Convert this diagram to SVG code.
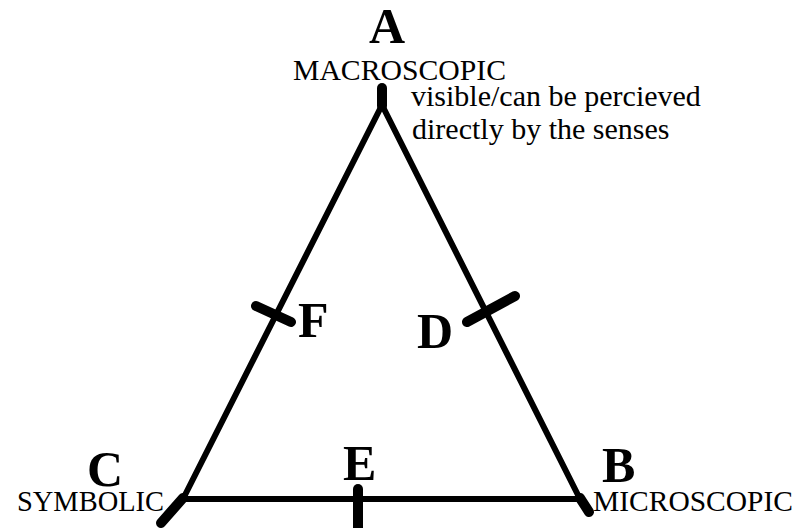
<svg xmlns="http://www.w3.org/2000/svg" width="809" height="528" viewBox="0 0 809 528">
<style>
.edge{stroke:#000;stroke-width:6;fill:none;stroke-linecap:round;stroke-linejoin:round}
.tick{stroke:#000;stroke-width:10;fill:none;stroke-linecap:round}
.big{font-family:"Liberation Serif","Times New Roman",serif;font-weight:bold;font-size:50px;fill:#000}
.lbl{font-family:"Liberation Serif","Times New Roman",serif;font-size:30px;fill:#000}
</style>
<rect width="809" height="528" fill="#fff"/>
<g id="connectors">
<path class="edge" d="M382,105 L183,499"/>
<path class="edge" d="M382,105 L580,499"/>
<path class="edge" d="M183,499 L580,499"/>
</g>
<g id="node-A">
<line class="tick" x1="382" y1="88" x2="382" y2="106"/>
<text class="big" x="387" y="43" text-anchor="middle">A</text>
<text class="lbl" x="293" y="80" textLength="213" lengthAdjust="spacingAndGlyphs">MACROSCOPIC</text>
<text class="lbl" x="411" y="106">visible/can be percieved</text>
<text class="lbl" x="412" y="139">directly by the senses</text>
</g>
<g id="node-B">
<line class="tick" x1="580" y1="498" x2="589" y2="512"/>
<text class="big" x="602" y="482">B</text>
<text class="lbl" x="593" y="511" textLength="200" lengthAdjust="spacingAndGlyphs">MICROSCOPIC</text>
</g>
<g id="node-C">
<line class="tick" x1="183" y1="498" x2="161" y2="523"/>
<text class="big" x="87" y="486">C</text>
<text class="lbl" x="17" y="511" textLength="147" lengthAdjust="spacingAndGlyphs">SYMBOLIC</text>
</g>
<g id="node-D">
<line class="tick" x1="467" y1="322" x2="515" y2="296"/>
<text class="big" x="417" y="348">D</text>
</g>
<g id="node-E">
<line class="tick" x1="358" y1="489" x2="358" y2="530"/>
<text class="big" x="343" y="480">E</text>
</g>
<g id="node-F">
<line class="tick" x1="256" y1="306" x2="291" y2="322"/>
<text class="big" x="298" y="337">F</text>
</g>
</svg>
